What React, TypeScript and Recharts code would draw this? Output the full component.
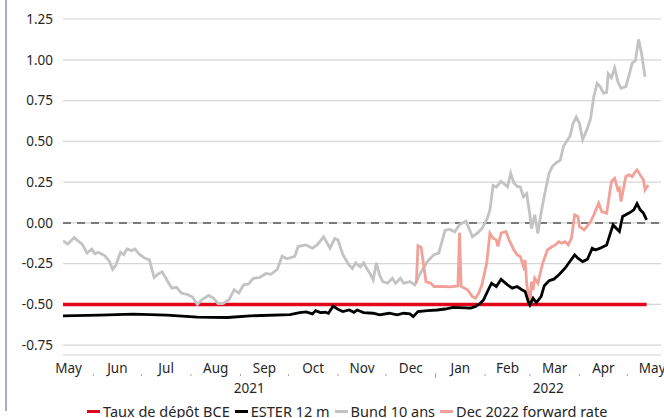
import { CartesianGrid, Line, LineChart, ReferenceLine, XAxis, YAxis } from "recharts";

const START = Date.UTC(2021, 4, 1);
const day = (iso: string) => (Date.parse(iso) - START) / 86400000;

const domainDates = ["2021-05-13", "2022-05-22"];

const depositDates = ["2021-05-13", "2022-05-13"];
const depositValues = [-0.5, -0.5];

const esterDates = [
  "2021-05-13", "2021-06-05", "2021-06-26", "2021-07-17", "2021-08-05", "2021-08-24",
  "2021-09-07", "2021-10-02", "2021-10-08", "2021-10-12", "2021-10-16", "2021-10-18",
  "2021-10-21", "2021-10-24", "2021-10-26", "2021-10-29", "2021-11-01", "2021-11-04",
  "2021-11-08", "2021-11-11", "2021-11-13", "2021-11-17", "2021-11-23", "2021-11-27",
  "2021-12-03", "2021-12-08", "2021-12-12", "2021-12-16", "2021-12-18", "2021-12-21",
  "2021-12-27", "2022-01-02", "2022-01-07", "2022-01-12", "2022-01-16", "2022-01-23",
  "2022-01-26", "2022-01-29", "2022-01-31", "2022-02-03", "2022-02-05", "2022-02-08",
  "2022-02-11", "2022-02-15", "2022-02-18", "2022-02-21", "2022-02-24", "2022-02-26",
  "2022-02-28", "2022-03-01", "2022-03-03", "2022-03-05", "2022-03-08", "2022-03-10",
  "2022-03-13", "2022-03-16", "2022-03-19", "2022-03-23", "2022-03-26", "2022-03-29",
  "2022-03-31", "2022-04-03", "2022-04-06", "2022-04-09", "2022-04-11", "2022-04-14",
  "2022-04-18", "2022-04-19", "2022-04-22", "2022-04-24", "2022-04-26", "2022-04-28",
  "2022-05-02", "2022-05-05", "2022-05-07", "2022-05-09", "2022-05-11", "2022-05-13"
];
const esterValues = [
  -0.57, -0.565, -0.56, -0.565, -0.578, -0.58,
  -0.57, -0.562, -0.55, -0.546, -0.558, -0.538,
  -0.55, -0.548, -0.554, -0.51, -0.53, -0.544,
  -0.534, -0.548, -0.534, -0.55, -0.554, -0.564,
  -0.554, -0.564, -0.554, -0.558, -0.575, -0.544,
  -0.538, -0.534, -0.528, -0.518, -0.52, -0.522,
  -0.513, -0.493, -0.472, -0.41, -0.37, -0.39,
  -0.346, -0.38, -0.4, -0.39, -0.41, -0.42,
  -0.483, -0.503, -0.462, -0.489, -0.452, -0.385,
  -0.355, -0.345, -0.32, -0.278, -0.237, -0.196,
  -0.217, -0.237, -0.223, -0.155, -0.166, -0.155,
  -0.135, -0.104, -0.012, -0.033, -0.053, 0.039,
  0.06, 0.08, 0.118, 0.08, 0.06, 0.018
];

const bundDates = [
  "2021-05-13", "2021-05-16", "2021-05-20", "2021-05-23", "2021-05-25", "2021-05-28",
  "2021-05-31", "2021-06-02", "2021-06-04", "2021-06-08", "2021-06-11", "2021-06-13",
  "2021-06-15", "2021-06-18", "2021-06-20", "2021-06-22", "2021-06-25", "2021-06-27",
  "2021-06-30", "2021-07-03", "2021-07-06", "2021-07-09", "2021-07-12", "2021-07-14",
  "2021-07-17", "2021-07-20", "2021-07-23", "2021-07-26", "2021-07-30", "2021-08-02",
  "2021-08-05", "2021-08-08", "2021-08-12", "2021-08-15", "2021-08-18", "2021-08-21",
  "2021-08-25", "2021-08-28", "2021-08-31", "2021-09-03", "2021-09-06", "2021-09-09",
  "2021-09-13", "2021-09-17", "2021-09-20", "2021-09-24", "2021-09-27", "2021-09-30",
  "2021-10-05", "2021-10-07", "2021-10-12", "2021-10-16", "2021-10-19", "2021-10-23",
  "2021-10-27", "2021-10-30", "2021-11-01", "2021-11-04", "2021-11-08", "2021-11-10",
  "2021-11-12", "2021-11-15", "2021-11-17", "2021-11-19", "2021-11-21", "2021-11-23",
  "2021-11-25", "2021-11-27", "2021-11-29", "2021-12-02", "2021-12-05", "2021-12-07",
  "2021-12-10", "2021-12-12", "2021-12-16", "2021-12-19", "2021-12-21", "2021-12-23",
  "2021-12-27", "2021-12-31", "2022-01-03", "2022-01-07", "2022-01-10", "2022-01-13",
  "2022-01-16", "2022-01-20", "2022-01-22", "2022-01-24", "2022-01-27", "2022-01-30",
  "2022-02-02", "2022-02-04", "2022-02-06", "2022-02-08", "2022-02-11", "2022-02-15",
  "2022-02-17", "2022-02-19", "2022-02-21", "2022-02-23", "2022-02-25", "2022-02-27",
  "2022-03-01", "2022-03-02", "2022-03-04", "2022-03-06", "2022-03-08", "2022-03-10",
  "2022-03-13", "2022-03-15", "2022-03-17", "2022-03-20", "2022-03-22", "2022-03-24",
  "2022-03-26", "2022-03-28", "2022-03-30", "2022-04-01", "2022-04-03", "2022-04-06",
  "2022-04-08", "2022-04-10", "2022-04-12", "2022-04-14", "2022-04-16", "2022-04-18",
  "2022-04-19", "2022-04-21", "2022-04-23", "2022-04-25", "2022-04-27", "2022-04-30",
  "2022-05-02", "2022-05-04", "2022-05-06", "2022-05-08", "2022-05-10", "2022-05-12"
];
const bundValues = [
  -0.11, -0.13, -0.09, -0.115, -0.13, -0.185,
  -0.16, -0.19, -0.18, -0.2, -0.235, -0.285,
  -0.26, -0.18, -0.195, -0.16, -0.17, -0.16,
  -0.195, -0.215, -0.225, -0.335, -0.31, -0.3,
  -0.35, -0.4, -0.395, -0.43, -0.44, -0.455,
  -0.5, -0.47, -0.445, -0.46, -0.495, -0.495,
  -0.47, -0.41, -0.43, -0.38, -0.375, -0.34,
  -0.335, -0.31, -0.315, -0.285, -0.205, -0.22,
  -0.205, -0.145, -0.135, -0.155, -0.135, -0.085,
  -0.155, -0.095, -0.105, -0.195, -0.26, -0.28,
  -0.245, -0.27, -0.245, -0.28, -0.31, -0.35,
  -0.245, -0.32, -0.36, -0.37, -0.34, -0.37,
  -0.34, -0.37, -0.36, -0.38, -0.34, -0.3,
  -0.235, -0.195, -0.185, -0.045, -0.04, -0.055,
  -0.01, 0.01, -0.035, -0.085, -0.065, -0.035,
  0.02, 0.08, 0.23, 0.22, 0.255, 0.22,
  0.305, 0.245, 0.225, 0.22, 0.16, 0.18,
  0.05, -0.035, 0.05, -0.065, 0.06, 0.165,
  0.305, 0.345, 0.365, 0.385, 0.47, 0.5,
  0.53, 0.61, 0.65, 0.61, 0.51, 0.58,
  0.64, 0.775, 0.855, 0.835, 0.795, 0.8,
  0.915, 0.89, 0.95, 0.865, 0.825, 0.835,
  0.905, 0.98, 0.995, 1.125, 1.03, 0.895
];

const forwardDates = [
  "2021-12-20", "2021-12-21", "2021-12-23", "2021-12-25", "2021-12-26", "2021-12-29",
  "2021-12-31", "2022-01-06", "2022-01-10", "2022-01-15", "2022-01-16", "2022-01-17",
  "2022-01-21", "2022-01-24", "2022-01-26", "2022-01-28", "2022-01-30", "2022-02-02",
  "2022-02-04", "2022-02-06", "2022-02-08", "2022-02-09", "2022-02-11", "2022-02-14",
  "2022-02-16", "2022-02-19", "2022-02-21", "2022-02-23", "2022-02-25", "2022-02-26",
  "2022-02-27", "2022-03-01", "2022-03-02", "2022-03-03", "2022-03-04", "2022-03-06",
  "2022-03-09", "2022-03-12", "2022-03-15", "2022-03-17", "2022-03-19", "2022-03-21",
  "2022-03-23", "2022-03-25", "2022-03-27", "2022-03-29", "2022-03-31", "2022-04-01",
  "2022-04-04", "2022-04-08", "2022-04-10", "2022-04-13", "2022-04-15", "2022-04-18",
  "2022-04-21", "2022-04-23", "2022-04-25", "2022-04-26", "2022-04-27", "2022-04-30",
  "2022-05-02", "2022-05-04", "2022-05-06", "2022-05-07", "2022-05-09", "2022-05-11",
  "2022-05-12", "2022-05-14"
];
const forwardValues = [
  -0.37, -0.14, -0.15, -0.29, -0.36, -0.37,
  -0.39, -0.39, -0.392, -0.387, -0.06, -0.39,
  -0.41, -0.452, -0.462, -0.431, -0.38, -0.247,
  -0.063, -0.094, -0.104, -0.145, -0.063, -0.053,
  -0.104, -0.166, -0.196, -0.206, -0.268, -0.227,
  -0.37, -0.503, -0.36, -0.411, -0.339, -0.37,
  -0.247, -0.166, -0.145, -0.135, -0.115, -0.125,
  -0.115, -0.135, -0.094, 0.049, 0.039, -0.023,
  -0.043, 0.008, 0.049, 0.121, 0.069, 0.06,
  0.253, 0.274, 0.202, 0.213, 0.131, 0.284,
  0.294, 0.284, 0.315, 0.325, 0.294, 0.264,
  0.202, 0.233
];

const yTicks = [-0.75, -0.5, -0.25, 0, 0.25, 0.5, 0.75, 1, 1.25];
const monthStarts = [
  "2021-05-01", "2021-06-01", "2021-07-01", "2021-08-01", "2021-09-01", "2021-10-01",
  "2021-11-01", "2021-12-01", "2022-01-01", "2022-02-01", "2022-03-01", "2022-04-01",
  "2022-05-01", "2022-06-01"
];
const monthLabels = ["May", "Jun", "Jul", "Aug", "Sep", "Oct", "Nov", "Dec", "Jan", "Feb", "Mar", "Apr", "May"];
const yearStarts = ["2021-01-01", "2022-01-01", "2023-01-01"];
const yearLabels = ["2021", "2022"];

// each line is tied to one of the three (identical) x axes so every axis has data
const series = [
  { name: "Taux de dépôt BCE", color: "#e3051b", width: 3.4, axis: "month", dates: depositDates, values: depositValues },
  { name: "Bund 10 ans", color: "#c3c3c3", width: 2.8, axis: "year", dates: bundDates, values: bundValues },
  { name: "Dec 2022 forward rate", color: "#f2a198", width: 2.8, axis: "month", dates: forwardDates, values: forwardValues },
  { name: "ESTER 12 m", color: "#000000", width: 2.8, axis: "ticks", dates: esterDates, values: esterValues }
];
const legendOrder = ["Taux de dépôt BCE", "ESTER 12 m", "Bund 10 ans", "Dec 2022 forward rate"];

const X_MIN = day(domainDates[0]);
const X_MAX = day(domainDates[1]);
const boundaryTicks = monthStarts.map(day).filter((d) => d > X_MIN && d < X_MAX);
const monthMids = monthLabels.map((_, i) => (day(monthStarts[i]) + day(monthStarts[i + 1])) / 2);
const yearMids = yearLabels.map((_, i) => {
  const a = Math.max(day(yearStarts[i]), X_MIN);
  const b = Math.min(day(yearStarts[i + 1]), X_MAX);
  return (a + b) / 2;
});

const font = "'Noto Sans', sans-serif";
const tickStyle = { fontFamily: font, fontSize: 13.5, fill: "#262626" };

function BoundaryTick({ x, y, payload }: any) {
  const isYear = day("2022-01-01") === payload.value;
  return (
    <line
      x1={x}
      x2={x}
      y1={isYear ? y - 1 : y}
      y2={isYear ? y + 4 : y + 2}
      stroke="#a6a6a6"
      strokeWidth={1}
    />
  );
}

export default function App() {
  return (
    <div style={{ position: "relative", width: 664, height: 418, overflow: "hidden", background: "#fff" }}>
      <style>{`body{margin:0;overflow:hidden}`}</style>
      <div style={{ position: "absolute", left: 5, top: 0, width: 1.5, height: 411, background: "#a3abd9" }} />
      <LineChart
        width={680}
        height={418}
        margin={{ top: 19, right: 19, bottom: 23, left: 3 }}
        style={{ position: "absolute", left: 0, top: 0 }}
      >
        <CartesianGrid xAxisId="ticks" vertical={false} stroke="#d6d6d6" strokeWidth={1.2} />
        <XAxis
          xAxisId="ticks"
          type="number"
          dataKey="d"
          domain={[X_MIN, X_MAX]}
          allowDataOverflow
          ticks={boundaryTicks}
          interval={0}
          height={1}
          tickSize={0}
          tickMargin={0}
          axisLine={false}
          tickLine={false}
          tick={<BoundaryTick />}
        />
        <XAxis
          xAxisId="month"
          type="number"
          dataKey="d"
          domain={[X_MIN, X_MAX]}
          allowDataOverflow
          ticks={monthMids}
          interval={0}
          height={19}
          axisLine={false}
          tickLine={false}
          tick={tickStyle}
          tickFormatter={(_v: number, i: number) => monthLabels[i]}
        />
        <XAxis
          xAxisId="year"
          type="number"
          dataKey="d"
          domain={[X_MIN, X_MAX]}
          allowDataOverflow
          ticks={yearMids}
          interval={0}
          height={20}
          axisLine={false}
          tickLine={false}
          tick={tickStyle}
          tickFormatter={(_v: number, i: number) => yearLabels[i]}
        />
        <YAxis
          type="number"
          domain={[-0.81, 1.25]}
          allowDataOverflow
          ticks={yTicks}
          interval={0}
          width={60}
          axisLine={false}
          tickLine={false}
          tickMargin={4}
          tick={tickStyle}
          tickFormatter={(v: number) => v.toFixed(2)}
        />
        <ReferenceLine xAxisId="ticks" y={0} stroke="#7a7a7a" strokeWidth={2} strokeDasharray="8 6" />
        {series.map((s) => (
          <Line
            key={s.name}
            name={s.name}
            xAxisId={s.axis}
            data={s.dates.map((d, i) => ({ d: day(d), v: s.values[i] }))}
            dataKey="v"
            type="linear"
            stroke={s.color}
            strokeWidth={s.width}
            dot={false}
            activeDot={false}
            isAnimationActive={false}
          />
        ))}
      </LineChart>
      <div
        style={{
          position: "absolute",
          left: 87,
          top: 401,
          display: "flex",
          alignItems: "center",
          fontFamily: font,
          fontSize: 14.5,
          lineHeight: "20px",
          color: "#262626",
          whiteSpace: "nowrap"
        }}
      >
        {legendOrder.map((name) => {
          const s = series.find((x) => x.name === name)!;
          return (
            <span key={name} style={{ display: "flex", alignItems: "center", marginRight: 5 }}>
              <span style={{ width: 13, height: 3, background: s.color, marginRight: 3 }} />
              {name}
            </span>
          );
        })}
      </div>
    </div>
  );
}
